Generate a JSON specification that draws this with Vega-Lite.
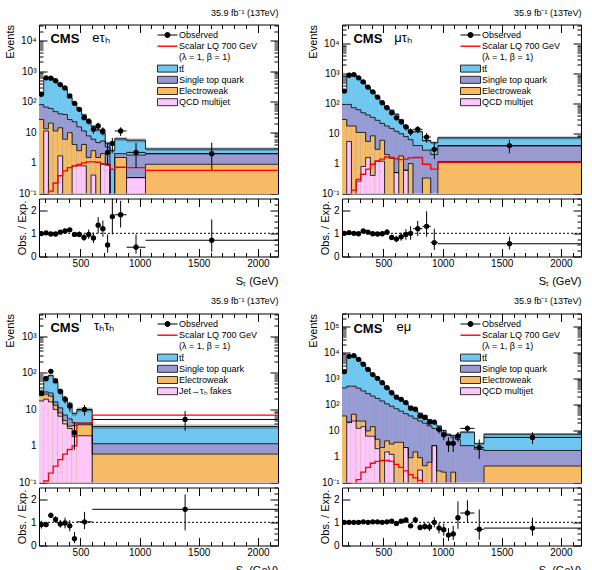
{
  "$schema": "https://vega.github.io/schema/vega-lite/v6.json",
  "background": "white",
  "padding": {"left": 4, "top": 7.5, "right": 0, "bottom": 0},
  "config": {
    "font": "Liberation Sans",
    "view": {"stroke": "#000", "strokeWidth": 1},
    "axis": {"domain": false, "grid": false, "tickColor": "#000", "tickWidth": 1, "labelColor": "#000", "labelFontSize": 10, "titleFontSize": 11, "titleFontWeight": "normal", "titleColor": "#000", "labelPadding": 2, "labelFlush": false, "labelOverlap": false},
    "axisLeft": {"labelPadding": 11, "titlePadding": 3},
    "axisBottom": {"labelPadding": 10, "titlePadding": 3},
    "title": {"fontSize": 9, "fontWeight": "normal", "anchor": "end", "color": "#000", "offset": 3},
    "legend": {"labelFontSize": 9, "labelColor": "#000", "symbolSize": 100, "labelOffset": 11, "rowPadding": 0.2, "symbolStrokeWidth": 0.8}
  },
  "datasets": {
    "eth": [
      {"lo":150,"hi":190,"x":170,"obs":174,"olo":161,"ohi":187,"tt":175,"st":80,"ew":26,"qcd":0.001,"sig":0.05,"blo":158,"bhi":192,"r":0.99,"rlo":0.92,"rhi":1.07},
      {"lo":190,"hi":230,"x":210,"obs":600,"olo":576,"ohi":624,"tt":590,"st":66,"ew":13,"qcd":11,"sig":0.08,"blo":540,"bhi":640,"r":1.02,"rlo":0.98,"rhi":1.06},
      {"lo":230,"hi":270,"x":250,"obs":585,"olo":561,"ohi":609,"tt":600,"st":60,"ew":20,"qcd":0.001,"sig":0.12,"blo":550,"bhi":650,"r":0.97,"rlo":0.93,"rhi":1.01},
      {"lo":270,"hi":310,"x":290,"obs":480,"olo":458,"ohi":502,"tt":495,"st":47,"ew":11,"qcd":0.001,"sig":0.22,"blo":455,"bhi":535,"r":0.97,"rlo":0.93,"rhi":1.02},
      {"lo":310,"hi":350,"x":330,"obs":360,"olo":341,"ohi":379,"tt":343,"st":40,"ew":14,"qcd":1.7,"sig":0.38,"blo":315,"bhi":371,"r":1.05,"rlo":0.99,"rhi":1.11},
      {"lo":350,"hi":390,"x":370,"obs":280,"olo":263,"ohi":297,"tt":255,"st":38,"ew":5.9,"qcd":0.001,"sig":0.55,"blo":233,"bhi":277,"r":1.1,"rlo":1.03,"rhi":1.17},
      {"lo":390,"hi":430,"x":410,"obs":155,"olo":143,"ohi":167,"tt":135,"st":26,"ew":9.7,"qcd":0.001,"sig":0.7,"blo":122,"bhi":148,"r":1.15,"rlo":1.06,"rhi":1.24},
      {"lo":430,"hi":470,"x":450,"obs":88,"olo":79,"ohi":97,"tt":93,"st":22,"ew":4,"qcd":0.8,"sig":0.8,"blo":84,"bhi":102,"r":0.95,"rlo":0.85,"rhi":1.05},
      {"lo":470,"hi":510,"x":490,"obs":56,"olo":49,"ohi":63,"tt":59,"st":15,"ew":2.5,"qcd":0.8,"sig":0.9,"blo":53,"bhi":65,"r":0.95,"rlo":0.83,"rhi":1.08},
      {"lo":510,"hi":550,"x":530,"obs":30,"olo":25,"ohi":36,"tt":37,"st":11,"ew":4,"qcd":0.8,"sig":1.0,"blo":33,"bhi":41,"r":0.82,"rlo":0.67,"rhi":0.97},
      {"lo":550,"hi":590,"x":570,"obs":23,"olo":18,"ohi":28,"tt":24,"st":7.6,"ew":1.5,"qcd":0.001,"sig":1.08,"blo":21,"bhi":27,"r":0.95,"rlo":0.76,"rhi":1.16},
      {"lo":590,"hi":630,"x":610,"obs":12.5,"olo":9,"ohi":16.5,"tt":15.6,"st":5.9,"ew":2.5,"qcd":0.4,"sig":1.08,"blo":13.7,"bhi":17.5,"r":0.8,"rlo":0.58,"rhi":1.03},
      {"lo":630,"hi":670,"x":650,"obs":16,"olo":12,"ohi":20.5,"tt":11.9,"st":4.6,"ew":1.5,"qcd":0.001,"sig":1.05,"blo":10.4,"bhi":13.4,"r":1.35,"rlo":1.0,"rhi":1.7},
      {"lo":670,"hi":710,"x":690,"obs":11,"olo":8,"ohi":14.5,"tt":9.2,"st":5.2,"ew":2.0,"qcd":0.9,"sig":0.95,"blo":8,"bhi":10.4,"r":1.2,"rlo":0.85,"rhi":1.55},
      {"lo":710,"hi":750,"x":730,"obs":2.2,"olo":0.8,"ohi":4.5,"tt":4.4,"st":3.3,"ew":0.9,"qcd":0.9,"sig":0.85,"blo":3.7,"bhi":5.1,"r":0.5,"rlo":0.17,"rhi":0.95},
      {"lo":750,"hi":790,"x":770,"obs":4.3,"olo":2.2,"ohi":6.5,"tt":2.5,"st":0.001,"ew":0.001,"qcd":0.001,"sig":0.62,"blo":2.0,"bhi":3.0,"r":1.72,"rlo":0.95,"rhi":2.6},
      {"lo":790,"hi":890,"x":840,"obs":11,"olo":7.5,"ohi":14.5,"tt":6.1,"st":2.0,"ew":1.5,"qcd":0.001,"sig":0.72,"blo":5.2,"bhi":7.0,"r":1.8,"rlo":1.25,"rhi":2.4},
      {"lo":890,"hi":1050,"x":970,"obs":2.2,"olo":0.7,"ohi":4.5,"tt":5.5,"st":1.8,"ew":0.33,"qcd":0.33,"sig":0.7,"blo":4.6,"bhi":6.4,"r":0.4,"rlo":0.12,"rhi":0.95},
      {"lo":1050,"hi":2170,"x":1610,"obs":2.0,"olo":0.6,"ohi":4.6,"tt":2.85,"st":2.0,"ew":0.9,"qcd":0.001,"sig":0.57,"blo":2.45,"bhi":3.25,"r":0.7,"rlo":0.2,"rhi":1.6}
    ],
    "mth": [
      {"lo":150,"hi":190,"x":170,"obs":265,"olo":249,"ohi":281,"tt":265,"st":95,"ew":30,"qcd":0.001,"sig":0.03,"blo":243,"bhi":287,"r":1.0,"rlo":0.94,"rhi":1.06},
      {"lo":190,"hi":230,"x":210,"obs":900,"olo":870,"ohi":930,"tt":875,"st":95,"ew":18,"qcd":5.5,"sig":0.05,"blo":805,"bhi":945,"r":1.03,"rlo":0.99,"rhi":1.07},
      {"lo":230,"hi":270,"x":250,"obs":950,"olo":919,"ohi":981,"tt":950,"st":74,"ew":18,"qcd":0.001,"sig":0.13,"blo":875,"bhi":1025,"r":1.0,"rlo":0.97,"rhi":1.03},
      {"lo":270,"hi":310,"x":290,"obs":740,"olo":713,"ohi":767,"tt":755,"st":63,"ew":11,"qcd":0.3,"sig":0.26,"blo":695,"bhi":815,"r":0.98,"rlo":0.94,"rhi":1.02},
      {"lo":310,"hi":350,"x":330,"obs":540,"olo":517,"ohi":563,"tt":490,"st":50,"ew":11,"qcd":0.8,"sig":0.44,"blo":450,"bhi":530,"r":1.1,"rlo":1.05,"rhi":1.15},
      {"lo":350,"hi":390,"x":370,"obs":360,"olo":341,"ohi":379,"tt":343,"st":42,"ew":5.5,"qcd":1.6,"sig":0.65,"blo":315,"bhi":371,"r":1.05,"rlo":0.99,"rhi":1.11},
      {"lo":390,"hi":430,"x":410,"obs":250,"olo":234,"ohi":266,"tt":255,"st":35,"ew":8.5,"qcd":0.4,"sig":0.95,"blo":235,"bhi":275,"r":0.98,"rlo":0.92,"rhi":1.04},
      {"lo":430,"hi":470,"x":450,"obs":167,"olo":154,"ohi":180,"tt":172,"st":28,"ew":3.0,"qcd":1.2,"sig":1.23,"blo":158,"bhi":186,"r":0.97,"rlo":0.9,"rhi":1.05},
      {"lo":470,"hi":510,"x":490,"obs":108,"olo":98,"ohi":118,"tt":110,"st":22,"ew":6.0,"qcd":1.2,"sig":1.4,"blo":101,"bhi":119,"r":0.98,"rlo":0.89,"rhi":1.08},
      {"lo":510,"hi":550,"x":530,"obs":74,"olo":65,"ohi":83,"tt":70,"st":18,"ew":2.0,"qcd":0.001,"sig":1.66,"blo":64,"bhi":76,"r":1.05,"rlo":0.93,"rhi":1.18},
      {"lo":550,"hi":590,"x":570,"obs":50,"olo":43,"ohi":57,"tt":61,"st":15,"ew":1.5,"qcd":0.001,"sig":1.6,"blo":56,"bhi":66,"r":0.82,"rlo":0.7,"rhi":0.94},
      {"lo":590,"hi":630,"x":610,"obs":34,"olo":28,"ohi":40,"tt":45,"st":12,"ew":0.5,"qcd":0.5,"sig":1.45,"blo":41,"bhi":49,"r":0.75,"rlo":0.62,"rhi":0.89},
      {"lo":630,"hi":670,"x":650,"obs":25,"olo":20,"ohi":30,"tt":29,"st":10,"ew":1.8,"qcd":0.001,"sig":1.35,"blo":26.5,"bhi":31.5,"r":0.85,"rlo":0.68,"rhi":1.03},
      {"lo":670,"hi":710,"x":690,"obs":17,"olo":13,"ohi":21,"tt":18,"st":8,"ew":0.6,"qcd":0.6,"sig":1.4,"blo":16.3,"bhi":19.7,"r":0.95,"rlo":0.72,"rhi":1.18},
      {"lo":710,"hi":750,"x":730,"obs":11.7,"olo":8.4,"ohi":15.2,"tt":11.7,"st":6.3,"ew":1.0,"qcd":0.001,"sig":1.55,"blo":10.5,"bhi":12.9,"r":1.0,"rlo":0.72,"rhi":1.3},
      {"lo":750,"hi":830,"x":790,"obs":14,"olo":10.3,"ohi":17.9,"tt":11.7,"st":4.0,"ew":0.001,"qcd":0.001,"sig":1.6,"blo":10.5,"bhi":12.9,"r":1.2,"rlo":0.88,"rhi":1.53},
      {"lo":830,"hi":900,"x":865,"obs":7.7,"olo":5,"ohi":10.5,"tt":5.9,"st":2.8,"ew":0.33,"qcd":0.001,"sig":0.95,"blo":5.2,"bhi":6.6,"r":1.3,"rlo":0.85,"rhi":1.95},
      {"lo":900,"hi":960,"x":930,"obs":3.0,"olo":1.4,"ohi":5,"tt":5.0,"st":2.0,"ew":0.001,"qcd":0.001,"sig":0.65,"blo":4.4,"bhi":5.6,"r":0.6,"rlo":0.28,"rhi":1.2},
      {"lo":960,"hi":2170,"x":1565,"obs":4.0,"olo":2.2,"ohi":6.2,"tt":7.3,"st":3.9,"ew":1.17,"qcd":0.001,"sig":1.1,"blo":6.4,"bhi":8.2,"r":0.55,"rlo":0.3,"rhi":0.85}
    ],
    "tth": [
      {"lo":150,"hi":190,"x":170,"obs":28,"olo":23,"ohi":34,"tt":31,"st":26,"ew":24,"qcd":17,"sig":0.05,"blo":27,"bhi":35,"r":0.9,"rlo":0.73,"rhi":1.07},
      {"lo":190,"hi":230,"x":210,"obs":69,"olo":61,"ohi":77,"tt":77,"st":30,"ew":26,"qcd":19,"sig":0.11,"blo":69,"bhi":85,"r":0.9,"rlo":0.79,"rhi":1.01},
      {"lo":230,"hi":270,"x":250,"obs":110,"olo":100,"ohi":121,"tt":85,"st":28,"ew":23,"qcd":16,"sig":0.18,"blo":76,"bhi":94,"r":1.3,"rlo":1.18,"rhi":1.42},
      {"lo":270,"hi":310,"x":290,"obs":61,"olo":53,"ohi":69,"tt":55,"st":16,"ew":13,"qcd":10,"sig":0.28,"blo":49,"bhi":61,"r":1.12,"rlo":0.98,"rhi":1.26},
      {"lo":310,"hi":350,"x":330,"obs":31,"olo":25.5,"ohi":36.5,"tt":33,"st":11,"ew":8,"qcd":6.5,"sig":0.42,"blo":29,"bhi":37,"r":0.93,"rlo":0.77,"rhi":1.1},
      {"lo":350,"hi":390,"x":370,"obs":19,"olo":14.6,"ohi":23.4,"tt":20,"st":7,"ew":5,"qcd":4,"sig":0.6,"blo":17.5,"bhi":22.5,"r":0.97,"rlo":0.74,"rhi":1.2},
      {"lo":390,"hi":430,"x":410,"obs":12.3,"olo":8.8,"ohi":15.8,"tt":14.5,"st":5.5,"ew":3.5,"qcd":3,"sig":0.8,"blo":12.5,"bhi":16.5,"r":0.85,"rlo":0.61,"rhi":1.09},
      {"lo":430,"hi":470,"x":450,"obs":2.3,"olo":0.8,"ohi":4.5,"tt":7.7,"st":4.3,"ew":3.6,"qcd":1.8,"sig":1.0,"blo":6.5,"bhi":8.9,"r":0.3,"rlo":0.1,"rhi":0.58},
      {"lo":470,"hi":600,"x":535,"obs":10,"olo":6.8,"ohi":13.2,"tt":9.8,"st":4.2,"ew":3.8,"qcd":1.9,"sig":4.2,"blo":8.4,"bhi":11.2,"r":1.02,"rlo":0.7,"rhi":1.45},
      {"lo":600,"hi":2170,"x":1385,"obs":5.3,"olo":2.6,"ohi":9,"tt":3.4,"st":1.15,"ew":0.6,"qcd":0.001,"sig":7.0,"blo":2.9,"bhi":3.9,"r":1.56,"rlo":0.65,"rhi":2.2}
    ],
    "emu": [
      {"lo":150,"hi":190,"x":170,"obs":1800,"olo":1758,"ohi":1842,"tt":1800,"st":430,"ew":36,"qcd":0.001,"sig":0.02,"blo":1690,"bhi":1910,"r":1.0,"rlo":0.97,"rhi":1.03},
      {"lo":190,"hi":230,"x":210,"obs":7000,"olo":6916,"ohi":7084,"tt":7000,"st":500,"ew":21,"qcd":20,"sig":0.05,"blo":6580,"bhi":7420,"r":1.0,"rlo":0.98,"rhi":1.02},
      {"lo":230,"hi":270,"x":250,"obs":7500,"olo":7413,"ohi":7587,"tt":7500,"st":500,"ew":42,"qcd":23,"sig":0.08,"blo":7050,"bhi":7950,"r":1.0,"rlo":0.98,"rhi":1.02},
      {"lo":270,"hi":310,"x":290,"obs":5400,"olo":5327,"ohi":5473,"tt":5400,"st":420,"ew":23,"qcd":12,"sig":0.13,"blo":5080,"bhi":5720,"r":1.0,"rlo":0.98,"rhi":1.02},
      {"lo":310,"hi":350,"x":330,"obs":3500,"olo":3441,"ohi":3559,"tt":3430,"st":330,"ew":23,"qcd":14,"sig":0.25,"blo":3220,"bhi":3640,"r":1.02,"rlo":1.0,"rhi":1.04},
      {"lo":350,"hi":390,"x":370,"obs":2200,"olo":2153,"ohi":2247,"tt":2200,"st":260,"ew":9.6,"qcd":6,"sig":0.38,"blo":2070,"bhi":2330,"r":1.0,"rlo":0.98,"rhi":1.02},
      {"lo":390,"hi":430,"x":410,"obs":1400,"olo":1363,"ohi":1437,"tt":1370,"st":210,"ew":14,"qcd":6,"sig":0.55,"blo":1290,"bhi":1450,"r":1.02,"rlo":0.99,"rhi":1.05},
      {"lo":430,"hi":470,"x":450,"obs":1000,"olo":968,"ohi":1032,"tt":980,"st":170,"ew":4.6,"qcd":2,"sig":0.65,"blo":920,"bhi":1040,"r":1.02,"rlo":0.99,"rhi":1.05},
      {"lo":470,"hi":510,"x":490,"obs":680,"olo":654,"ohi":706,"tt":680,"st":135,"ew":2.2,"qcd":0.001,"sig":0.7,"blo":640,"bhi":720,"r":1.0,"rlo":0.96,"rhi":1.04},
      {"lo":510,"hi":550,"x":530,"obs":440,"olo":419,"ohi":461,"tt":430,"st":105,"ew":4,"qcd":1.5,"sig":0.7,"blo":404,"bhi":456,"r":1.02,"rlo":0.97,"rhi":1.07},
      {"lo":550,"hi":590,"x":570,"obs":280,"olo":263,"ohi":297,"tt":267,"st":85,"ew":3,"qcd":1.2,"sig":0.65,"blo":251,"bhi":283,"r":1.05,"rlo":0.99,"rhi":1.11},
      {"lo":590,"hi":630,"x":610,"obs":190,"olo":176,"ohi":204,"tt":200,"st":68,"ew":3.5,"qcd":0.001,"sig":0.5,"blo":188,"bhi":212,"r":0.95,"rlo":0.88,"rhi":1.02},
      {"lo":630,"hi":670,"x":650,"obs":157,"olo":144,"ohi":170,"tt":150,"st":55,"ew":3.5,"qcd":0.001,"sig":0.38,"blo":141,"bhi":159,"r":1.05,"rlo":0.97,"rhi":1.13},
      {"lo":670,"hi":710,"x":690,"obs":117,"olo":106,"ohi":128,"tt":106,"st":44,"ew":2.2,"qcd":2.2,"sig":0.28,"blo":99,"bhi":113,"r":1.1,"rlo":1.0,"rhi":1.2},
      {"lo":710,"hi":750,"x":730,"obs":71,"olo":63,"ohi":79,"tt":84,"st":36,"ew":0.9,"qcd":0.001,"sig":0.2,"blo":78,"bhi":90,"r":0.85,"rlo":0.75,"rhi":0.95},
      {"lo":750,"hi":790,"x":770,"obs":65,"olo":57,"ohi":73,"tt":59,"st":29,"ew":1.5,"qcd":0.001,"sig":0.15,"blo":55,"bhi":63,"r":1.1,"rlo":0.96,"rhi":1.24},
      {"lo":790,"hi":830,"x":810,"obs":36,"olo":30,"ohi":42,"tt":46,"st":23,"ew":0.9,"qcd":0.3,"sig":0.12,"blo":43,"bhi":49,"r":0.78,"rlo":0.65,"rhi":0.91},
      {"lo":830,"hi":870,"x":850,"obs":31,"olo":25.5,"ohi":36.5,"tt":38,"st":19,"ew":0.44,"qcd":0.001,"sig":0.09,"blo":35.5,"bhi":40.5,"r":0.82,"rlo":0.67,"rhi":0.97},
      {"lo":870,"hi":910,"x":890,"obs":21,"olo":16.4,"ohi":25.6,"tt":26,"st":15,"ew":0.6,"qcd":0.001,"sig":0.07,"blo":24,"bhi":28,"r":0.8,"rlo":0.62,"rhi":0.98},
      {"lo":910,"hi":950,"x":930,"obs":21,"olo":16.4,"ohi":25.6,"tt":21,"st":12,"ew":2.6,"qcd":2.6,"sig":0.05,"blo":19.4,"bhi":22.6,"r":1.0,"rlo":0.78,"rhi":1.22},
      {"lo":950,"hi":990,"x":970,"obs":11,"olo":7.7,"ohi":14.3,"tt":14.7,"st":10,"ew":0.28,"qcd":0.001,"sig":0.03,"blo":13.5,"bhi":15.9,"r":0.75,"rlo":0.52,"rhi":0.98},
      {"lo":990,"hi":1030,"x":1010,"obs":6.8,"olo":4.2,"ohi":9.4,"tt":10,"st":8,"ew":0.25,"qcd":0.001,"sig":0.03,"blo":9.1,"bhi":10.9,"r":0.68,"rlo":0.42,"rhi":0.94},
      {"lo":1030,"hi":1070,"x":1050,"obs":3.2,"olo":1.5,"ohi":5.4,"tt":7.1,"st":6.5,"ew":0.001,"qcd":0.001,"sig":0.03,"blo":6.4,"bhi":7.8,"r":0.45,"rlo":0.2,"rhi":0.75},
      {"lo":1070,"hi":1110,"x":1090,"obs":3.2,"olo":1.5,"ohi":5.4,"tt":6.4,"st":5.5,"ew":0.25,"qcd":0.001,"sig":0.03,"blo":5.8,"bhi":7.0,"r":0.5,"rlo":0.23,"rhi":0.85},
      {"lo":1110,"hi":1150,"x":1130,"obs":6.2,"olo":3.7,"ohi":8.7,"tt":5.2,"st":4.5,"ew":0.001,"qcd":0.001,"sig":0.03,"blo":4.7,"bhi":5.7,"r":1.2,"rlo":0.72,"rhi":1.9},
      {"lo":1150,"hi":1270,"x":1210,"obs":12,"olo":8.5,"ohi":15.5,"tt":8.6,"st":2.6,"ew":0.001,"qcd":0.001,"sig":0.03,"blo":7.7,"bhi":9.5,"r":1.4,"rlo":1.0,"rhi":1.95},
      {"lo":1270,"hi":1350,"x":1310,"obs":2.2,"olo":0.8,"ohi":4.5,"tt":3.1,"st":1.9,"ew":0.001,"qcd":0.001,"sig":0.03,"blo":2.7,"bhi":3.5,"r":0.7,"rlo":0.25,"rhi":1.55},
      {"lo":1350,"hi":2170,"x":1760,"obs":5.4,"olo":3.0,"ohi":8.5,"tt":7.2,"st":1.7,"ew":0.43,"qcd":0.001,"sig":0.03,"blo":6.4,"bhi":8.0,"r":0.75,"rlo":0.42,"rhi":1.2}
    ]
  },
  "resolve": {"scale": {"color": "independent"}, "legend": {"color": "independent"}},
  "spacing": 8,
  "vconcat": [
    {
      "spacing": 28,
      "resolve": {"scale": {"color": "independent"}, "legend": {"color": "independent"}},
      "hconcat": [
        {
          "bounds": "flush",
          "spacing": 5,
          "resolve": {"scale": {"color": "independent"}, "legend": {"color": "independent"}},
          "vconcat": [
            {
              "width": 239, "height": 169,
              "title": {"text": "35.9 fb⁻¹ (13TeV)"},
              "data": {"name": "eth"},
              "layer": [
                {
                  "transform": [{"fold": ["tt", "st", "ew", "qcd"], "as": ["proc", "val"]}],
                  "mark": {"type": "rect", "clip": true, "strokeWidth": 0.6},
                  "encoding": {
                    "x": {"field": "lo", "type": "quantitative", "scale": {"domain": [150, 2170], "nice": false, "zero": false},
                          "axis": {"orient": "bottom", "values": [200,300,400,500,600,700,800,900,1000,1100,1200,1300,1400,1500,1600,1700,1800,1900,2000,2100], "labels": false, "title": null, "tickSize": {"condition": {"test": "datum.value % 500 == 0", "value": -8}, "value": -4}}},
                    "x2": {"field": "hi"},
                    "y": {"field": "val", "type": "quantitative", "scale": {"type": "log", "domain": [0.1, 33000], "nice": false},
                          "axis": {"orient": "left", "values": [0.1,0.2,0.3,0.4,0.5,0.6,0.7,0.8,0.9,1,2,3,4,5,6,7,8,9,10,20,30,40,50,60,70,80,90,100,200,300,400,500,600,700,800,900,1000,2000,3000,4000,5000,6000,7000,8000,9000,10000,20000,30000,40000,50000,60000,70000,80000,90000,100000,200000,300000], "labelExpr": "datum.value==0.1?'10⁻¹':datum.value==1?'1':datum.value==10?'10':datum.value==100?'10²':datum.value==1000?'10³':datum.value==10000?'10⁴':datum.value==100000?'10⁵':''", "tickSize": {"condition": {"test": "indexof([0.1,1,10,100,1000,10000,100000], datum.value) >= 0", "value": -8}, "value": -4}, "title": "Events", "titleAnchor": "end"}},
                    "y2": {"datum": 0.1},
                    "stroke": {"field": "proc", "type": "nominal", "scale": {"domain": ["obs", "sig", "lam", "tt", "st", "ew", "qcd"], "range": ["#000000", "#ff0000", "rgba(0,0,0,0)", "#6fc7ef", "#9a9ad2", "#f7bb65", "#fec7fb"]}, "legend": null},
                    "color": {"field": "proc", "type": "nominal",
                      "scale": {"domain": ["obs", "sig", "lam", "tt", "st", "ew", "qcd"], "range": ["#000000", "#ff0000", "rgba(0,0,0,0)", "#6fc7ef", "#9a9ad2", "#f7bb65", "#fec7fb"]},
                      "legend": {"orient": "none", "legendX": 118, "legendY": 5, "title": null,
                        "labelExpr": "datum.value=='obs'?'Observed':datum.value=='sig'?'Scalar LQ 700 GeV':datum.value=='lam'?'(λ = 1, β = 1)':datum.value=='tt'?'tt̄':datum.value=='st'?'Single top quark':datum.value=='ew'?'Electroweak':'QCD multijet'",
                        "encode": {"symbols": {"update": {
                          "shape": {"signal": "datum.value=='obs' ? 'M-1,-0.1H3V0.1H-1Z M1.6,0A0.6,0.6 0 1 1 0.4,0A0.6,0.6 0 1 1 1.6,0Z' : datum.value=='sig' ? 'M-1,-0.14H3V0.14H-1Z' : 'M-1,-0.7H3V0.7H-1Z'"},
                          "stroke": {"signal": "indexof(['tt','st','ew','qcd'], datum.value) >= 0 ? '#000' : 'transparent'"},
                          "strokeWidth": {"value": 0.8}}}}}}
                  }
                },
                {
                  "mark": {"type": "rect", "clip": true, "fill": "#000", "opacity": 0.22},
                  "encoding": {
                    "x": {"field": "lo", "type": "quantitative", "axis": {"orient": "top", "values": [200,300,400,500,600,700,800,900,1000,1100,1200,1300,1400,1500,1600,1700,1800,1900,2000,2100], "labels": false, "title": null, "tickSize": {"condition": {"test": "datum.value % 500 == 0", "value": -8}, "value": -4}}},
                    "x2": {"field": "hi"},
                    "y": {"field": "blo", "type": "quantitative", "axis": {"orient": "right", "values": [0.1,0.2,0.3,0.4,0.5,0.6,0.7,0.8,0.9,1,2,3,4,5,6,7,8,9,10,20,30,40,50,60,70,80,90,100,200,300,400,500,600,700,800,900,1000,2000,3000,4000,5000,6000,7000,8000,9000,10000,20000,30000,40000,50000,60000,70000,80000,90000,100000,200000,300000], "labels": false, "title": null, "tickSize": {"condition": {"test": "indexof([0.1,1,10,100,1000,10000,100000], datum.value) >= 0", "value": -8}, "value": -4}}},
                    "y2": {"field": "bhi"}
                  }
                },
                {
                  "transform": [{"fold": ["tt", "st", "ew", "qcd"], "as": ["proc", "val"]}, {"fold": ["lo", "hi"], "as": ["edge", "xe"]}],
                  "mark": {"type": "line", "clip": true, "color": "#000", "strokeWidth": 0.8},
                  "encoding": {
                    "x": {"field": "xe", "type": "quantitative", "axis": null},
                    "y": {"field": "val", "type": "quantitative", "axis": null},
                    "detail": {"field": "proc"},
                    "order": [{"field": "xe", "type": "quantitative"}, {"field": "edge", "type": "ordinal"}]
                  }
                },
                {
                  "transform": [{"fold": ["lo", "hi"], "as": ["edge", "xe"]}],
                  "mark": {"type": "line", "clip": true, "color": "#ff0000", "strokeWidth": 1.3},
                  "encoding": {
                    "x": {"field": "xe", "type": "quantitative", "axis": null},
                    "y": {"field": "sig", "type": "quantitative", "axis": null},
                    "order": [{"field": "xe", "type": "quantitative"}, {"field": "edge", "type": "ordinal"}]
                  }
                },
                {
                  "mark": {"type": "rule", "clip": true, "color": "#000"},
                  "encoding": {"x": {"field": "x", "type": "quantitative", "axis": null}, "y": {"field": "olo", "type": "quantitative", "axis": null}, "y2": {"field": "ohi"}}
                },
                {
                  "mark": {"type": "rule", "clip": true, "color": "#000"},
                  "encoding": {"x": {"field": "lo", "type": "quantitative", "axis": null}, "x2": {"field": "hi"}, "y": {"field": "obs", "type": "quantitative", "axis": null}}
                },
                {
                  "mark": {"type": "point", "filled": true, "clip": true, "color": "#000", "opacity": 1, "size": 28},
                  "encoding": {"x": {"field": "x", "type": "quantitative", "axis": null}, "y": {"field": "obs", "type": "quantitative", "axis": null}}
                },
                {
                  "data": {"values": [{}]},
                  "mark": {"type": "text", "text": "CMS", "fontWeight": "bold", "fontSize": 13, "align": "left", "baseline": "alphabetic"},
                  "encoding": {"x": {"datum": 247, "type": "quantitative", "axis": null}, "y": {"datum": 8000, "type": "quantitative", "axis": null}}
                },
                {
                  "data": {"values": [{}]},
                  "mark": {"type": "text", "text": "eτₕ", "fontSize": 13, "align": "left", "baseline": "alphabetic"},
                  "encoding": {"x": {"datum": 600, "type": "quantitative", "axis": null}, "y": {"datum": 9000, "type": "quantitative", "axis": null}}
                }
              ]
            },
            {
              "width": 239, "height": 58,
              "data": {"name": "eth"},
              "layer": [
                {
                  "data": {"values": [{}]},
                  "mark": {"type": "rule", "color": "#000", "strokeDash": [2, 2], "strokeWidth": 1},
                  "encoding": {"y": {"datum": 1, "type": "quantitative", "scale": {"domain": [0, 2.5], "nice": false},
                    "axis": {"orient": "left", "values": [0,0.25,0.5,0.75,1,1.25,1.5,1.75,2,2.25,2.5], "format": "d", "labelExpr": "datum.value % 1 == 0 ? datum.label : ''", "tickSize": {"condition": {"test": "datum.value % 1 == 0", "value": -8}, "value": -4}, "title": "Obs. / Exp."}}}
                },
                {
                  "mark": {"type": "rule", "clip": true, "color": "#000"},
                  "encoding": {
                    "x": {"field": "x", "type": "quantitative", "scale": {"domain": [150, 2170], "nice": false, "zero": false},
                          "axis": {"orient": "bottom", "values": [200,300,400,500,600,700,800,900,1000,1100,1200,1300,1400,1500,1600,1700,1800,1900,2000,2100], "format": "d", "labelExpr": "datum.value % 500 == 0 ? datum.label : ''", "title": "Sₜ (GeV)", "titleAnchor": "end", "tickSize": {"condition": {"test": "datum.value % 500 == 0", "value": -8}, "value": -4}}},
                    "y": {"field": "rlo", "type": "quantitative",
                          "axis": {"orient": "right", "values": [0,0.25,0.5,0.75,1,1.25,1.5,1.75,2,2.25,2.5], "labels": false, "title": null, "tickSize": {"condition": {"test": "datum.value % 1 == 0", "value": -8}, "value": -4}}},
                    "y2": {"field": "rhi"}
                  }
                },
                {
                  "mark": {"type": "rule", "clip": true, "color": "#000"},
                  "encoding": {
                    "x": {"field": "lo", "type": "quantitative", "axis": {"orient": "top", "values": [200,300,400,500,600,700,800,900,1000,1100,1200,1300,1400,1500,1600,1700,1800,1900,2000,2100], "labels": false, "title": null, "tickSize": {"condition": {"test": "datum.value % 500 == 0", "value": -8}, "value": -4}}},
                    "x2": {"field": "hi"},
                    "y": {"field": "r", "type": "quantitative", "axis": null}
                  }
                },
                {
                  "mark": {"type": "point", "filled": true, "clip": true, "color": "#000", "opacity": 1, "size": 28},
                  "encoding": {"x": {"field": "x", "type": "quantitative", "axis": null}, "y": {"field": "r", "type": "quantitative", "axis": null}}
                }
              ]
            }
          ]
        },
        {
          "bounds": "flush",
          "spacing": 5,
          "resolve": {"scale": {"color": "independent"}, "legend": {"color": "independent"}},
          "vconcat": [
            {
              "width": 239, "height": 169,
              "title": {"text": "35.9 fb⁻¹ (13TeV)"},
              "data": {"name": "mth"},
              "layer": [
                {
                  "transform": [{"fold": ["tt", "st", "ew", "qcd"], "as": ["proc", "val"]}],
                  "mark": {"type": "rect", "clip": true, "strokeWidth": 0.6},
                  "encoding": {
                    "x": {"field": "lo", "type": "quantitative", "scale": {"domain": [150, 2170], "nice": false, "zero": false},
                          "axis": {"orient": "bottom", "values": [200,300,400,500,600,700,800,900,1000,1100,1200,1300,1400,1500,1600,1700,1800,1900,2000,2100], "labels": false, "title": null, "tickSize": {"condition": {"test": "datum.value % 500 == 0", "value": -8}, "value": -4}}},
                    "x2": {"field": "hi"},
                    "y": {"field": "val", "type": "quantitative", "scale": {"type": "log", "domain": [0.1, 44700], "nice": false},
                          "axis": {"orient": "left", "values": [0.1,0.2,0.3,0.4,0.5,0.6,0.7,0.8,0.9,1,2,3,4,5,6,7,8,9,10,20,30,40,50,60,70,80,90,100,200,300,400,500,600,700,800,900,1000,2000,3000,4000,5000,6000,7000,8000,9000,10000,20000,30000,40000,50000,60000,70000,80000,90000,100000,200000,300000], "labelExpr": "datum.value==0.1?'10⁻¹':datum.value==1?'1':datum.value==10?'10':datum.value==100?'10²':datum.value==1000?'10³':datum.value==10000?'10⁴':datum.value==100000?'10⁵':''", "tickSize": {"condition": {"test": "indexof([0.1,1,10,100,1000,10000,100000], datum.value) >= 0", "value": -8}, "value": -4}, "title": "Events", "titleAnchor": "end"}},
                    "y2": {"datum": 0.1},
                    "stroke": {"field": "proc", "type": "nominal", "scale": {"domain": ["obs", "sig", "lam", "tt", "st", "ew", "qcd"], "range": ["#000000", "#ff0000", "rgba(0,0,0,0)", "#6fc7ef", "#9a9ad2", "#f7bb65", "#fec7fb"]}, "legend": null},
                    "color": {"field": "proc", "type": "nominal",
                      "scale": {"domain": ["obs", "sig", "lam", "tt", "st", "ew", "qcd"], "range": ["#000000", "#ff0000", "rgba(0,0,0,0)", "#6fc7ef", "#9a9ad2", "#f7bb65", "#fec7fb"]},
                      "legend": {"orient": "none", "legendX": 118, "legendY": 5, "title": null,
                        "labelExpr": "datum.value=='obs'?'Observed':datum.value=='sig'?'Scalar LQ 700 GeV':datum.value=='lam'?'(λ = 1, β = 1)':datum.value=='tt'?'tt̄':datum.value=='st'?'Single top quark':datum.value=='ew'?'Electroweak':'QCD multijet'",
                        "encode": {"symbols": {"update": {
                          "shape": {"signal": "datum.value=='obs' ? 'M-1,-0.1H3V0.1H-1Z M1.6,0A0.6,0.6 0 1 1 0.4,0A0.6,0.6 0 1 1 1.6,0Z' : datum.value=='sig' ? 'M-1,-0.14H3V0.14H-1Z' : 'M-1,-0.7H3V0.7H-1Z'"},
                          "stroke": {"signal": "indexof(['tt','st','ew','qcd'], datum.value) >= 0 ? '#000' : 'transparent'"},
                          "strokeWidth": {"value": 0.8}}}}}}
                  }
                },
                {
                  "mark": {"type": "rect", "clip": true, "fill": "#000", "opacity": 0.22},
                  "encoding": {
                    "x": {"field": "lo", "type": "quantitative", "axis": {"orient": "top", "values": [200,300,400,500,600,700,800,900,1000,1100,1200,1300,1400,1500,1600,1700,1800,1900,2000,2100], "labels": false, "title": null, "tickSize": {"condition": {"test": "datum.value % 500 == 0", "value": -8}, "value": -4}}},
                    "x2": {"field": "hi"},
                    "y": {"field": "blo", "type": "quantitative", "axis": {"orient": "right", "values": [0.1,0.2,0.3,0.4,0.5,0.6,0.7,0.8,0.9,1,2,3,4,5,6,7,8,9,10,20,30,40,50,60,70,80,90,100,200,300,400,500,600,700,800,900,1000,2000,3000,4000,5000,6000,7000,8000,9000,10000,20000,30000,40000,50000,60000,70000,80000,90000,100000,200000,300000], "labels": false, "title": null, "tickSize": {"condition": {"test": "indexof([0.1,1,10,100,1000,10000,100000], datum.value) >= 0", "value": -8}, "value": -4}}},
                    "y2": {"field": "bhi"}
                  }
                },
                {
                  "transform": [{"fold": ["tt", "st", "ew", "qcd"], "as": ["proc", "val"]}, {"fold": ["lo", "hi"], "as": ["edge", "xe"]}],
                  "mark": {"type": "line", "clip": true, "color": "#000", "strokeWidth": 0.8},
                  "encoding": {
                    "x": {"field": "xe", "type": "quantitative", "axis": null},
                    "y": {"field": "val", "type": "quantitative", "axis": null},
                    "detail": {"field": "proc"},
                    "order": [{"field": "xe", "type": "quantitative"}, {"field": "edge", "type": "ordinal"}]
                  }
                },
                {
                  "transform": [{"fold": ["lo", "hi"], "as": ["edge", "xe"]}],
                  "mark": {"type": "line", "clip": true, "color": "#ff0000", "strokeWidth": 1.3},
                  "encoding": {
                    "x": {"field": "xe", "type": "quantitative", "axis": null},
                    "y": {"field": "sig", "type": "quantitative", "axis": null},
                    "order": [{"field": "xe", "type": "quantitative"}, {"field": "edge", "type": "ordinal"}]
                  }
                },
                {
                  "mark": {"type": "rule", "clip": true, "color": "#000"},
                  "encoding": {"x": {"field": "x", "type": "quantitative", "axis": null}, "y": {"field": "olo", "type": "quantitative", "axis": null}, "y2": {"field": "ohi"}}
                },
                {
                  "mark": {"type": "rule", "clip": true, "color": "#000"},
                  "encoding": {"x": {"field": "lo", "type": "quantitative", "axis": null}, "x2": {"field": "hi"}, "y": {"field": "obs", "type": "quantitative", "axis": null}}
                },
                {
                  "mark": {"type": "point", "filled": true, "clip": true, "color": "#000", "opacity": 1, "size": 28},
                  "encoding": {"x": {"field": "x", "type": "quantitative", "axis": null}, "y": {"field": "obs", "type": "quantitative", "axis": null}}
                },
                {
                  "data": {"values": [{}]},
                  "mark": {"type": "text", "text": "CMS", "fontWeight": "bold", "fontSize": 13, "align": "left", "baseline": "alphabetic"},
                  "encoding": {"x": {"datum": 247, "type": "quantitative", "axis": null}, "y": {"datum": 10500, "type": "quantitative", "axis": null}}
                },
                {
                  "data": {"values": [{}]},
                  "mark": {"type": "text", "text": "μτₕ", "fontSize": 13, "align": "left", "baseline": "alphabetic"},
                  "encoding": {"x": {"datum": 592, "type": "quantitative", "axis": null}, "y": {"datum": 11500, "type": "quantitative", "axis": null}}
                }
              ]
            },
            {
              "width": 239, "height": 58,
              "data": {"name": "mth"},
              "layer": [
                {
                  "data": {"values": [{}]},
                  "mark": {"type": "rule", "color": "#000", "strokeDash": [2, 2], "strokeWidth": 1},
                  "encoding": {"y": {"datum": 1, "type": "quantitative", "scale": {"domain": [0, 2.5], "nice": false},
                    "axis": {"orient": "left", "values": [0,0.25,0.5,0.75,1,1.25,1.5,1.75,2,2.25,2.5], "format": "d", "labelExpr": "datum.value % 1 == 0 ? datum.label : ''", "tickSize": {"condition": {"test": "datum.value % 1 == 0", "value": -8}, "value": -4}, "title": "Obs. / Exp."}}}
                },
                {
                  "mark": {"type": "rule", "clip": true, "color": "#000"},
                  "encoding": {
                    "x": {"field": "x", "type": "quantitative", "scale": {"domain": [150, 2170], "nice": false, "zero": false},
                          "axis": {"orient": "bottom", "values": [200,300,400,500,600,700,800,900,1000,1100,1200,1300,1400,1500,1600,1700,1800,1900,2000,2100], "format": "d", "labelExpr": "datum.value % 500 == 0 ? datum.label : ''", "title": "Sₜ (GeV)", "titleAnchor": "end", "tickSize": {"condition": {"test": "datum.value % 500 == 0", "value": -8}, "value": -4}}},
                    "y": {"field": "rlo", "type": "quantitative",
                          "axis": {"orient": "right", "values": [0,0.25,0.5,0.75,1,1.25,1.5,1.75,2,2.25,2.5], "labels": false, "title": null, "tickSize": {"condition": {"test": "datum.value % 1 == 0", "value": -8}, "value": -4}}},
                    "y2": {"field": "rhi"}
                  }
                },
                {
                  "mark": {"type": "rule", "clip": true, "color": "#000"},
                  "encoding": {
                    "x": {"field": "lo", "type": "quantitative", "axis": {"orient": "top", "values": [200,300,400,500,600,700,800,900,1000,1100,1200,1300,1400,1500,1600,1700,1800,1900,2000,2100], "labels": false, "title": null, "tickSize": {"condition": {"test": "datum.value % 500 == 0", "value": -8}, "value": -4}}},
                    "x2": {"field": "hi"},
                    "y": {"field": "r", "type": "quantitative", "axis": null}
                  }
                },
                {
                  "mark": {"type": "point", "filled": true, "clip": true, "color": "#000", "opacity": 1, "size": 28},
                  "encoding": {"x": {"field": "x", "type": "quantitative", "axis": null}, "y": {"field": "r", "type": "quantitative", "axis": null}}
                }
              ]
            }
          ]
        }
      ]
    },
    {
      "spacing": 28,
      "resolve": {"scale": {"color": "independent"}, "legend": {"color": "independent"}},
      "hconcat": [
        {
          "bounds": "flush",
          "spacing": 5,
          "resolve": {"scale": {"color": "independent"}, "legend": {"color": "independent"}},
          "vconcat": [
            {
              "width": 239, "height": 169,
              "title": {"text": "35.9 fb⁻¹ (13TeV)"},
              "data": {"name": "tth"},
              "layer": [
                {
                  "transform": [{"fold": ["tt", "st", "ew", "qcd"], "as": ["proc", "val"]}],
                  "mark": {"type": "rect", "clip": true, "strokeWidth": 0.6},
                  "encoding": {
                    "x": {"field": "lo", "type": "quantitative", "scale": {"domain": [150, 2170], "nice": false, "zero": false},
                          "axis": {"orient": "bottom", "values": [200,300,400,500,600,700,800,900,1000,1100,1200,1300,1400,1500,1600,1700,1800,1900,2000,2100], "labels": false, "title": null, "tickSize": {"condition": {"test": "datum.value % 500 == 0", "value": -8}, "value": -4}}},
                    "x2": {"field": "hi"},
                    "y": {"field": "val", "type": "quantitative", "scale": {"type": "log", "domain": [0.1, 4200], "nice": false},
                          "axis": {"orient": "left", "values": [0.1,0.2,0.3,0.4,0.5,0.6,0.7,0.8,0.9,1,2,3,4,5,6,7,8,9,10,20,30,40,50,60,70,80,90,100,200,300,400,500,600,700,800,900,1000,2000,3000,4000,5000,6000,7000,8000,9000,10000,20000,30000,40000,50000,60000,70000,80000,90000,100000,200000,300000], "labelExpr": "datum.value==0.1?'10⁻¹':datum.value==1?'1':datum.value==10?'10':datum.value==100?'10²':datum.value==1000?'10³':datum.value==10000?'10⁴':datum.value==100000?'10⁵':''", "tickSize": {"condition": {"test": "indexof([0.1,1,10,100,1000,10000,100000], datum.value) >= 0", "value": -8}, "value": -4}, "title": "Events", "titleAnchor": "end"}},
                    "y2": {"datum": 0.1},
                    "stroke": {"field": "proc", "type": "nominal", "scale": {"domain": ["obs", "sig", "lam", "tt", "st", "ew", "qcd"], "range": ["#000000", "#ff0000", "rgba(0,0,0,0)", "#6fc7ef", "#9a9ad2", "#f7bb65", "#fec7fb"]}, "legend": null},
                    "color": {"field": "proc", "type": "nominal",
                      "scale": {"domain": ["obs", "sig", "lam", "tt", "st", "ew", "qcd"], "range": ["#000000", "#ff0000", "rgba(0,0,0,0)", "#6fc7ef", "#9a9ad2", "#f7bb65", "#fec7fb"]},
                      "legend": {"orient": "none", "legendX": 118, "legendY": 5, "title": null,
                        "labelExpr": "datum.value=='obs'?'Observed':datum.value=='sig'?'Scalar LQ 700 GeV':datum.value=='lam'?'(λ = 1, β = 1)':datum.value=='tt'?'tt̄':datum.value=='st'?'Single top quark':datum.value=='ew'?'Electroweak':'Jet→τₕ fakes'",
                        "encode": {"symbols": {"update": {
                          "shape": {"signal": "datum.value=='obs' ? 'M-1,-0.1H3V0.1H-1Z M1.6,0A0.6,0.6 0 1 1 0.4,0A0.6,0.6 0 1 1 1.6,0Z' : datum.value=='sig' ? 'M-1,-0.14H3V0.14H-1Z' : 'M-1,-0.7H3V0.7H-1Z'"},
                          "stroke": {"signal": "indexof(['tt','st','ew','qcd'], datum.value) >= 0 ? '#000' : 'transparent'"},
                          "strokeWidth": {"value": 0.8}}}}}}
                  }
                },
                {
                  "mark": {"type": "rect", "clip": true, "fill": "#000", "opacity": 0.22},
                  "encoding": {
                    "x": {"field": "lo", "type": "quantitative", "axis": {"orient": "top", "values": [200,300,400,500,600,700,800,900,1000,1100,1200,1300,1400,1500,1600,1700,1800,1900,2000,2100], "labels": false, "title": null, "tickSize": {"condition": {"test": "datum.value % 500 == 0", "value": -8}, "value": -4}}},
                    "x2": {"field": "hi"},
                    "y": {"field": "blo", "type": "quantitative", "axis": {"orient": "right", "values": [0.1,0.2,0.3,0.4,0.5,0.6,0.7,0.8,0.9,1,2,3,4,5,6,7,8,9,10,20,30,40,50,60,70,80,90,100,200,300,400,500,600,700,800,900,1000,2000,3000,4000,5000,6000,7000,8000,9000,10000,20000,30000,40000,50000,60000,70000,80000,90000,100000,200000,300000], "labels": false, "title": null, "tickSize": {"condition": {"test": "indexof([0.1,1,10,100,1000,10000,100000], datum.value) >= 0", "value": -8}, "value": -4}}},
                    "y2": {"field": "bhi"}
                  }
                },
                {
                  "transform": [{"fold": ["tt", "st", "ew", "qcd"], "as": ["proc", "val"]}, {"fold": ["lo", "hi"], "as": ["edge", "xe"]}],
                  "mark": {"type": "line", "clip": true, "color": "#000", "strokeWidth": 0.8},
                  "encoding": {
                    "x": {"field": "xe", "type": "quantitative", "axis": null},
                    "y": {"field": "val", "type": "quantitative", "axis": null},
                    "detail": {"field": "proc"},
                    "order": [{"field": "xe", "type": "quantitative"}, {"field": "edge", "type": "ordinal"}]
                  }
                },
                {
                  "transform": [{"fold": ["lo", "hi"], "as": ["edge", "xe"]}],
                  "mark": {"type": "line", "clip": true, "color": "#ff0000", "strokeWidth": 1.3},
                  "encoding": {
                    "x": {"field": "xe", "type": "quantitative", "axis": null},
                    "y": {"field": "sig", "type": "quantitative", "axis": null},
                    "order": [{"field": "xe", "type": "quantitative"}, {"field": "edge", "type": "ordinal"}]
                  }
                },
                {
                  "mark": {"type": "rule", "clip": true, "color": "#000"},
                  "encoding": {"x": {"field": "x", "type": "quantitative", "axis": null}, "y": {"field": "olo", "type": "quantitative", "axis": null}, "y2": {"field": "ohi"}}
                },
                {
                  "mark": {"type": "rule", "clip": true, "color": "#000"},
                  "encoding": {"x": {"field": "lo", "type": "quantitative", "axis": null}, "x2": {"field": "hi"}, "y": {"field": "obs", "type": "quantitative", "axis": null}}
                },
                {
                  "mark": {"type": "point", "filled": true, "clip": true, "color": "#000", "opacity": 1, "size": 28},
                  "encoding": {"x": {"field": "x", "type": "quantitative", "axis": null}, "y": {"field": "obs", "type": "quantitative", "axis": null}}
                },
                {
                  "data": {"values": [{}]},
                  "mark": {"type": "text", "text": "CMS", "fontWeight": "bold", "fontSize": 13, "align": "left", "baseline": "alphabetic"},
                  "encoding": {"x": {"datum": 247, "type": "quantitative", "axis": null}, "y": {"datum": 1320, "type": "quantitative", "axis": null}}
                },
                {
                  "data": {"values": [{}]},
                  "mark": {"type": "text", "text": "τₕτₕ", "fontSize": 13, "align": "left", "baseline": "alphabetic"},
                  "encoding": {"x": {"datum": 615, "type": "quantitative", "axis": null}, "y": {"datum": 1450, "type": "quantitative", "axis": null}}
                }
              ]
            },
            {
              "width": 239, "height": 58,
              "data": {"name": "tth"},
              "layer": [
                {
                  "data": {"values": [{}]},
                  "mark": {"type": "rule", "color": "#000", "strokeDash": [2, 2], "strokeWidth": 1},
                  "encoding": {"y": {"datum": 1, "type": "quantitative", "scale": {"domain": [0, 2.5], "nice": false},
                    "axis": {"orient": "left", "values": [0,0.25,0.5,0.75,1,1.25,1.5,1.75,2,2.25,2.5], "format": "d", "labelExpr": "datum.value % 1 == 0 ? datum.label : ''", "tickSize": {"condition": {"test": "datum.value % 1 == 0", "value": -8}, "value": -4}, "title": "Obs. / Exp."}}}
                },
                {
                  "mark": {"type": "rule", "clip": true, "color": "#000"},
                  "encoding": {
                    "x": {"field": "x", "type": "quantitative", "scale": {"domain": [150, 2170], "nice": false, "zero": false},
                          "axis": {"orient": "bottom", "values": [200,300,400,500,600,700,800,900,1000,1100,1200,1300,1400,1500,1600,1700,1800,1900,2000,2100], "format": "d", "labelExpr": "datum.value % 500 == 0 ? datum.label : ''", "title": "Sₜ (GeV)", "titleAnchor": "end", "tickSize": {"condition": {"test": "datum.value % 500 == 0", "value": -8}, "value": -4}}},
                    "y": {"field": "rlo", "type": "quantitative",
                          "axis": {"orient": "right", "values": [0,0.25,0.5,0.75,1,1.25,1.5,1.75,2,2.25,2.5], "labels": false, "title": null, "tickSize": {"condition": {"test": "datum.value % 1 == 0", "value": -8}, "value": -4}}},
                    "y2": {"field": "rhi"}
                  }
                },
                {
                  "mark": {"type": "rule", "clip": true, "color": "#000"},
                  "encoding": {
                    "x": {"field": "lo", "type": "quantitative", "axis": {"orient": "top", "values": [200,300,400,500,600,700,800,900,1000,1100,1200,1300,1400,1500,1600,1700,1800,1900,2000,2100], "labels": false, "title": null, "tickSize": {"condition": {"test": "datum.value % 500 == 0", "value": -8}, "value": -4}}},
                    "x2": {"field": "hi"},
                    "y": {"field": "r", "type": "quantitative", "axis": null}
                  }
                },
                {
                  "mark": {"type": "point", "filled": true, "clip": true, "color": "#000", "opacity": 1, "size": 28},
                  "encoding": {"x": {"field": "x", "type": "quantitative", "axis": null}, "y": {"field": "r", "type": "quantitative", "axis": null}}
                }
              ]
            }
          ]
        },
        {
          "bounds": "flush",
          "spacing": 5,
          "resolve": {"scale": {"color": "independent"}, "legend": {"color": "independent"}},
          "vconcat": [
            {
              "width": 239, "height": 169,
              "title": {"text": "35.9 fb⁻¹ (13TeV)"},
              "data": {"name": "emu"},
              "layer": [
                {
                  "transform": [{"fold": ["tt", "st", "ew", "qcd"], "as": ["proc", "val"]}],
                  "mark": {"type": "rect", "clip": true, "strokeWidth": 0.6},
                  "encoding": {
                    "x": {"field": "lo", "type": "quantitative", "scale": {"domain": [150, 2170], "nice": false, "zero": false},
                          "axis": {"orient": "bottom", "values": [200,300,400,500,600,700,800,900,1000,1100,1200,1300,1400,1500,1600,1700,1800,1900,2000,2100], "labels": false, "title": null, "tickSize": {"condition": {"test": "datum.value % 500 == 0", "value": -8}, "value": -4}}},
                    "x2": {"field": "hi"},
                    "y": {"field": "val", "type": "quantitative", "scale": {"type": "log", "domain": [0.1, 310000], "nice": false},
                          "axis": {"orient": "left", "values": [0.1,0.2,0.3,0.4,0.5,0.6,0.7,0.8,0.9,1,2,3,4,5,6,7,8,9,10,20,30,40,50,60,70,80,90,100,200,300,400,500,600,700,800,900,1000,2000,3000,4000,5000,6000,7000,8000,9000,10000,20000,30000,40000,50000,60000,70000,80000,90000,100000,200000,300000], "labelExpr": "datum.value==0.1?'10⁻¹':datum.value==1?'1':datum.value==10?'10':datum.value==100?'10²':datum.value==1000?'10³':datum.value==10000?'10⁴':datum.value==100000?'10⁵':''", "tickSize": {"condition": {"test": "indexof([0.1,1,10,100,1000,10000,100000], datum.value) >= 0", "value": -8}, "value": -4}, "title": "Events", "titleAnchor": "end"}},
                    "y2": {"datum": 0.1},
                    "stroke": {"field": "proc", "type": "nominal", "scale": {"domain": ["obs", "sig", "lam", "tt", "st", "ew", "qcd"], "range": ["#000000", "#ff0000", "rgba(0,0,0,0)", "#6fc7ef", "#9a9ad2", "#f7bb65", "#fec7fb"]}, "legend": null},
                    "color": {"field": "proc", "type": "nominal",
                      "scale": {"domain": ["obs", "sig", "lam", "tt", "st", "ew", "qcd"], "range": ["#000000", "#ff0000", "rgba(0,0,0,0)", "#6fc7ef", "#9a9ad2", "#f7bb65", "#fec7fb"]},
                      "legend": {"orient": "none", "legendX": 118, "legendY": 5, "title": null,
                        "labelExpr": "datum.value=='obs'?'Observed':datum.value=='sig'?'Scalar LQ 700 GeV':datum.value=='lam'?'(λ = 1, β = 1)':datum.value=='tt'?'tt̄':datum.value=='st'?'Single top quark':datum.value=='ew'?'Electroweak':'QCD multijet'",
                        "encode": {"symbols": {"update": {
                          "shape": {"signal": "datum.value=='obs' ? 'M-1,-0.1H3V0.1H-1Z M1.6,0A0.6,0.6 0 1 1 0.4,0A0.6,0.6 0 1 1 1.6,0Z' : datum.value=='sig' ? 'M-1,-0.14H3V0.14H-1Z' : 'M-1,-0.7H3V0.7H-1Z'"},
                          "stroke": {"signal": "indexof(['tt','st','ew','qcd'], datum.value) >= 0 ? '#000' : 'transparent'"},
                          "strokeWidth": {"value": 0.8}}}}}}
                  }
                },
                {
                  "mark": {"type": "rect", "clip": true, "fill": "#000", "opacity": 0.22},
                  "encoding": {
                    "x": {"field": "lo", "type": "quantitative", "axis": {"orient": "top", "values": [200,300,400,500,600,700,800,900,1000,1100,1200,1300,1400,1500,1600,1700,1800,1900,2000,2100], "labels": false, "title": null, "tickSize": {"condition": {"test": "datum.value % 500 == 0", "value": -8}, "value": -4}}},
                    "x2": {"field": "hi"},
                    "y": {"field": "blo", "type": "quantitative", "axis": {"orient": "right", "values": [0.1,0.2,0.3,0.4,0.5,0.6,0.7,0.8,0.9,1,2,3,4,5,6,7,8,9,10,20,30,40,50,60,70,80,90,100,200,300,400,500,600,700,800,900,1000,2000,3000,4000,5000,6000,7000,8000,9000,10000,20000,30000,40000,50000,60000,70000,80000,90000,100000,200000,300000], "labels": false, "title": null, "tickSize": {"condition": {"test": "indexof([0.1,1,10,100,1000,10000,100000], datum.value) >= 0", "value": -8}, "value": -4}}},
                    "y2": {"field": "bhi"}
                  }
                },
                {
                  "transform": [{"fold": ["tt", "st", "ew", "qcd"], "as": ["proc", "val"]}, {"fold": ["lo", "hi"], "as": ["edge", "xe"]}],
                  "mark": {"type": "line", "clip": true, "color": "#000", "strokeWidth": 0.8},
                  "encoding": {
                    "x": {"field": "xe", "type": "quantitative", "axis": null},
                    "y": {"field": "val", "type": "quantitative", "axis": null},
                    "detail": {"field": "proc"},
                    "order": [{"field": "xe", "type": "quantitative"}, {"field": "edge", "type": "ordinal"}]
                  }
                },
                {
                  "transform": [{"fold": ["lo", "hi"], "as": ["edge", "xe"]}],
                  "mark": {"type": "line", "clip": true, "color": "#ff0000", "strokeWidth": 1.3},
                  "encoding": {
                    "x": {"field": "xe", "type": "quantitative", "axis": null},
                    "y": {"field": "sig", "type": "quantitative", "axis": null},
                    "order": [{"field": "xe", "type": "quantitative"}, {"field": "edge", "type": "ordinal"}]
                  }
                },
                {
                  "mark": {"type": "rule", "clip": true, "color": "#000"},
                  "encoding": {"x": {"field": "x", "type": "quantitative", "axis": null}, "y": {"field": "olo", "type": "quantitative", "axis": null}, "y2": {"field": "ohi"}}
                },
                {
                  "mark": {"type": "rule", "clip": true, "color": "#000"},
                  "encoding": {"x": {"field": "lo", "type": "quantitative", "axis": null}, "x2": {"field": "hi"}, "y": {"field": "obs", "type": "quantitative", "axis": null}}
                },
                {
                  "mark": {"type": "point", "filled": true, "clip": true, "color": "#000", "opacity": 1, "size": 28},
                  "encoding": {"x": {"field": "x", "type": "quantitative", "axis": null}, "y": {"field": "obs", "type": "quantitative", "axis": null}}
                },
                {
                  "data": {"values": [{}]},
                  "mark": {"type": "text", "text": "CMS", "fontWeight": "bold", "fontSize": 13, "align": "left", "baseline": "alphabetic"},
                  "encoding": {"x": {"datum": 247, "type": "quantitative", "axis": null}, "y": {"datum": 53000, "type": "quantitative", "axis": null}}
                },
                {
                  "data": {"values": [{}]},
                  "mark": {"type": "text", "text": "eμ", "fontSize": 13, "align": "left", "baseline": "alphabetic"},
                  "encoding": {"x": {"datum": 610, "type": "quantitative", "axis": null}, "y": {"datum": 66000, "type": "quantitative", "axis": null}}
                }
              ]
            },
            {
              "width": 239, "height": 58,
              "data": {"name": "emu"},
              "layer": [
                {
                  "data": {"values": [{}]},
                  "mark": {"type": "rule", "color": "#000", "strokeDash": [2, 2], "strokeWidth": 1},
                  "encoding": {"y": {"datum": 1, "type": "quantitative", "scale": {"domain": [0, 2.5], "nice": false},
                    "axis": {"orient": "left", "values": [0,0.25,0.5,0.75,1,1.25,1.5,1.75,2,2.25,2.5], "format": "d", "labelExpr": "datum.value % 1 == 0 ? datum.label : ''", "tickSize": {"condition": {"test": "datum.value % 1 == 0", "value": -8}, "value": -4}, "title": "Obs. / Exp."}}}
                },
                {
                  "mark": {"type": "rule", "clip": true, "color": "#000"},
                  "encoding": {
                    "x": {"field": "x", "type": "quantitative", "scale": {"domain": [150, 2170], "nice": false, "zero": false},
                          "axis": {"orient": "bottom", "values": [200,300,400,500,600,700,800,900,1000,1100,1200,1300,1400,1500,1600,1700,1800,1900,2000,2100], "format": "d", "labelExpr": "datum.value % 500 == 0 ? datum.label : ''", "title": "Sₜ (GeV)", "titleAnchor": "end", "tickSize": {"condition": {"test": "datum.value % 500 == 0", "value": -8}, "value": -4}}},
                    "y": {"field": "rlo", "type": "quantitative",
                          "axis": {"orient": "right", "values": [0,0.25,0.5,0.75,1,1.25,1.5,1.75,2,2.25,2.5], "labels": false, "title": null, "tickSize": {"condition": {"test": "datum.value % 1 == 0", "value": -8}, "value": -4}}},
                    "y2": {"field": "rhi"}
                  }
                },
                {
                  "mark": {"type": "rule", "clip": true, "color": "#000"},
                  "encoding": {
                    "x": {"field": "lo", "type": "quantitative", "axis": {"orient": "top", "values": [200,300,400,500,600,700,800,900,1000,1100,1200,1300,1400,1500,1600,1700,1800,1900,2000,2100], "labels": false, "title": null, "tickSize": {"condition": {"test": "datum.value % 500 == 0", "value": -8}, "value": -4}}},
                    "x2": {"field": "hi"},
                    "y": {"field": "r", "type": "quantitative", "axis": null}
                  }
                },
                {
                  "mark": {"type": "point", "filled": true, "clip": true, "color": "#000", "opacity": 1, "size": 28},
                  "encoding": {"x": {"field": "x", "type": "quantitative", "axis": null}, "y": {"field": "r", "type": "quantitative", "axis": null}}
                }
              ]
            }
          ]
        }
      ]
    }
  ]
}
